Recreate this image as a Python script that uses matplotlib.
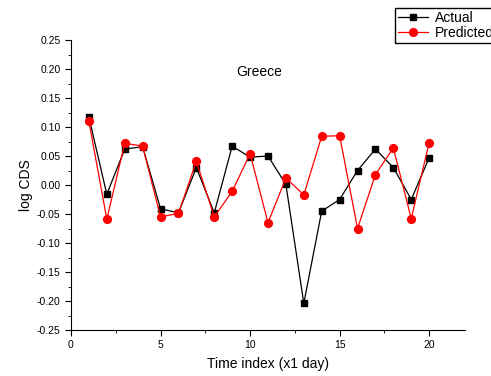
import numpy as np
import matplotlib.pyplot as plt
from matplotlib.ticker import MultipleLocator

plt.rcParams['font.family'] = ['Liberation Sans', 'DejaVu Sans']

## data
time_index = np.arange(1, 21)
actual = [0.117, -0.016, 0.062, 0.066, -0.041, -0.048, 0.030, -0.048, 0.067, 0.048,
          0.050, 0.001, -0.204, -0.045, -0.025, 0.025, 0.062, 0.030, -0.025, 0.047]
predicted = [0.110, -0.059, 0.072, 0.067, -0.055, -0.049, 0.041, -0.055, -0.011, 0.054,
             -0.065, 0.012, -0.017, 0.084, 0.085, -0.075, 0.018, 0.064, -0.058, 0.073]

fig = plt.figure(figsize=(4.91, 3.76), dpi=100)
ax = fig.add_axes([0.1446, 0.1223, 0.8024, 0.7713])
l1, = ax.plot(time_index, actual, 'ks-', lw=0.9, ms=4.6)
l2, = ax.plot(time_index, predicted, 'o-', color='red', lw=0.9, ms=5.6)

ax.set_xlim(0, 22)
ax.set_ylim(-0.25, 0.25)
ax.xaxis.set_major_locator(MultipleLocator(5))
ax.xaxis.set_minor_locator(MultipleLocator(2.5))
ax.yaxis.set_major_locator(MultipleLocator(0.05))
ax.yaxis.set_minor_locator(MultipleLocator(0.025))
ax.yaxis.set_major_formatter(plt.FormatStrFormatter('%.2f'))
ax.spines['top'].set_visible(False)
ax.spines['right'].set_visible(False)
ax.tick_params(which='major', direction='out', length=4, labelsize=7.5)
ax.tick_params(which='minor', direction='out', length=2)

ax.set_xlabel('Time index (x1 day)', fontsize=10, labelpad=5)
ax.set_ylabel('log CDS', fontsize=10, labelpad=3)
ax.text(10.5, 0.195, 'Greece', fontsize=10, ha='center', va='center')

# legend sits above the axes and runs off the right edge, like the original
fig.legend([l1, l2], ['Actual', 'Predicted'], loc='upper left',
           bbox_to_anchor=(395 / 491, 1 - 8 / 376), fontsize=10, frameon=True,
           fancybox=False, edgecolor='black', framealpha=1, borderpad=0.2,
           handlelength=2.2, labelspacing=0.1, handletextpad=0.45, borderaxespad=0)

fig.savefig('out.png', dpi=100)
